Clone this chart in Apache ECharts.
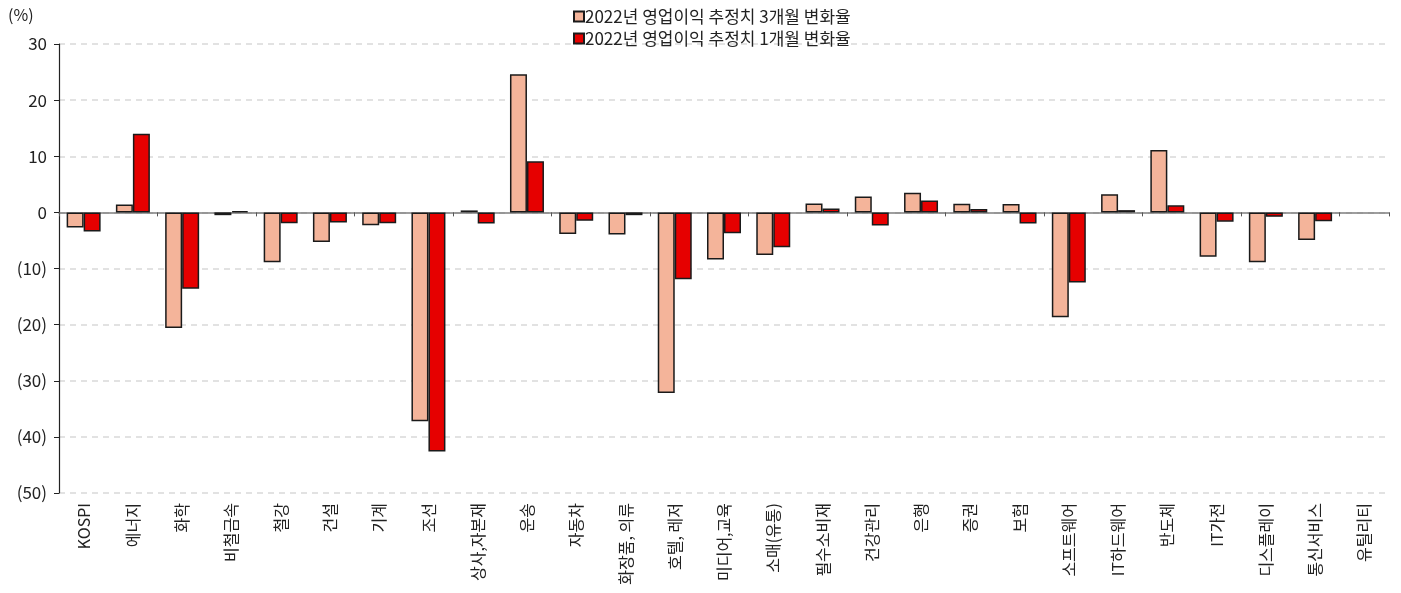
<!DOCTYPE html>
<html>
<head>
<meta charset="utf-8">
<script src="https://cdn.jsdelivr.net/npm/echarts@6/dist/echarts.min.js"></script>
<style>
  html, body { margin: 0; padding: 0; background: #fff; }
  #barChart { width: 1401px; height: 593px; }
</style>
</head>
<body>
<div id="barChart"></div>
<script>
var categories = ["KOSPI", "에너지", "화학", "비철금속", "철강", "건설", "기계", "조선", "상사,자본재", "운송",
  "자동차", "화장품, 의류", "호텔, 레저", "미디어,교육", "소매(유통)", "필수소비재", "건강관리", "은행", "증권", "보험",
  "소프트웨어", "IT하드웨어", "반도체", "IT가전", "디스플레이", "통신서비스", "유틸리티"];
var chg3m = [-2.7, 1.4, -20.6, -0.5, -8.9, -5.3, -2.3, -37.2, 0.35, 24.6,
  -3.85, -3.95, -32.2, -8.4, -7.6, 1.6, 2.85, 3.5, 1.55, 1.5,
  -18.7, 3.25, 11.1, -7.9, -8.9, -4.9, null];
var chg1m = [-3.4, 14.0, -13.6, 0.25, -1.95, -1.8, -1.95, -42.6, -2.0, 9.1,
  -1.5, -0.5, -11.9, -3.7, -6.2, 0.7, -2.35, 2.1, 0.6, -2.0,
  -12.5, 0.4, 1.25, -1.65, -0.8, -1.6, null];
var seriesNames = ["2022년 영업이익 추정치 3개월 변화율", "2022년 영업이익 추정치 1개월 변화율"];

var font = "'Noto Sans CJK KR', 'Noto Sans', sans-serif";
var chart = echarts.init(document.getElementById("barChart"));
chart.setOption({
  animation: false,
  textStyle: { fontFamily: font },
  graphic: [{
    type: "text", left: 8, top: 7,
    style: { text: "(%)", font: "16px " + font, fill: "#222" }
  }],
  legend: {
    orient: "vertical",
    left: 568,
    top: 3,
    itemWidth: 10,
    itemHeight: 10,
    itemGap: 5,
    icon: "rect",
    textStyle: { fontSize: 17, color: "#222", padding: [0, 0, 0, -4] },
    data: seriesNames
  },
  grid: { left: 59, right: 12, top: 44, bottom: 100, containLabel: false },
  xAxis: [{
    type: "category",
    data: categories,
    axisLine: { onZero: true, lineStyle: { color: "#7f7f7f", width: 1.5 } },
    axisTick: { show: true, length: 4, lineStyle: { color: "#555" } },
    axisLabel: { show: false }
  }, {
    type: "category",
    data: categories,
    position: "bottom",
    axisLine: { show: false, onZero: false },
    axisTick: { show: false },
    axisLabel: { rotate: 90, fontSize: 16, color: "#222", margin: 10, interval: 0 }
  }],
  yAxis: {
    type: "value",
    min: -50, max: 30, interval: 10,
    axisLine: { show: true, lineStyle: { color: "#222", width: 1.2 } },
    axisTick: { show: true, length: 5, lineStyle: { color: "#222" } },
    axisLabel: {
      fontSize: 17, color: "#222", margin: 12,
      formatter: function (v) { return v < 0 ? "(" + (-v) + ")" : v; }
    },
    splitLine: { lineStyle: { color: "#d9d9d9", type: [6, 5], width: 1.5 } }
  },
  series: [{
    name: seriesNames[0],
    type: "bar",
    data: chg3m,
    barGap: "0%",
    barCategoryGap: "31%",
    itemStyle: { color: "#f4b49a", borderColor: "#1a1a1a", borderWidth: 1.5 }
  }, {
    name: seriesNames[1],
    type: "bar",
    data: chg1m,
    itemStyle: { color: "#e60000", borderColor: "#1a1a1a", borderWidth: 1.5 }
  }]
});
</script>
</body>
</html>
